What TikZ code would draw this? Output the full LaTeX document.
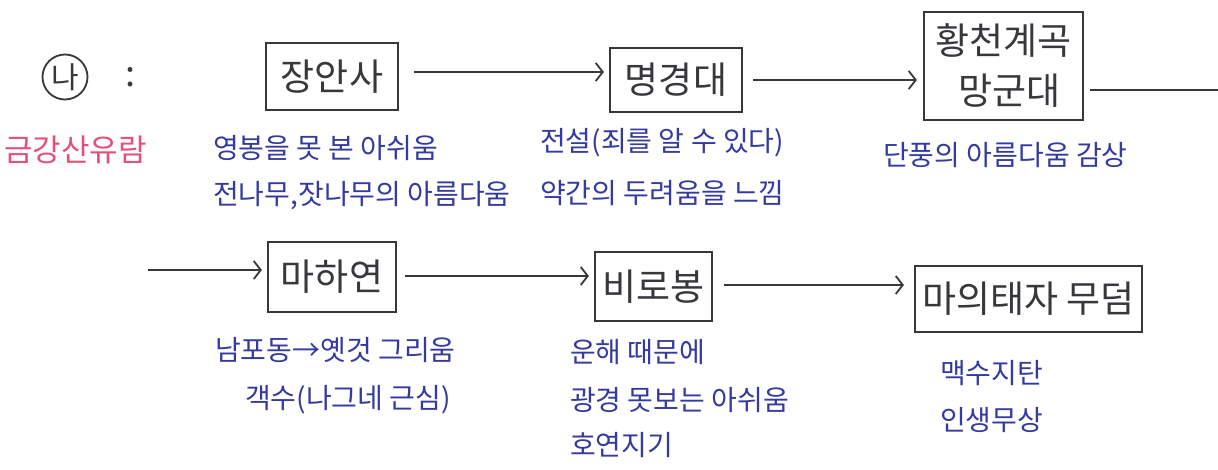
\documentclass[tikz,border=0pt]{standalone}
\usepackage{fontspec}
\setmainfont{Noto Sans CJK KR}
\usetikzlibrary{arrows.meta}
\definecolor{ink}{RGB}{55,55,60}
\definecolor{blueink}{RGB}{52,58,160}
\definecolor{redink}{RGB}{228,80,120}
\tikzset{
  place/.style={draw=ink, line width=2.2pt, text=ink, font=\fontsize{37}{44}\selectfont, inner sep=0pt, align=center},
  note/.style={text=blueink, font=\fontsize{28}{32}\selectfont, anchor=west, inner sep=0pt},
  link/.style={draw=ink, line width=1.8pt, -{Straight Barb[length=7pt,width=18pt,line width=1.8pt]}},
  plain/.style={draw=ink, line width=1.8pt}
}
\begin{document}
\begin{tikzpicture}[x=1pt,y=-1pt]
\useasboundingbox[fill=white] (0,0) rectangle (1218,469);
% header
\node[draw=ink, line width=1.8pt, circle, minimum size=45pt, inner sep=0pt, text=ink, font=\fontsize{30}{34}\selectfont] (na) at (65,77) {나};
\node[text=ink, font=\fontsize{36}{40}\selectfont, inner sep=0pt] (colon) at (131,77) {:};
\node[text=redink, font=\fontsize{31}{36}\selectfont, anchor=west, inner sep=0pt] (title) at (4,150) {금강산유람};
% boxes
\node[place, minimum width=132pt, minimum height=67pt] (jang) at (332,76.5) {장안사};
\node[place, minimum width=132pt, minimum height=64pt] (myeong) at (676,80) {명경대};
\node[place, minimum width=159pt, minimum height=108pt] (hwang) at (1003.5,66) {황천계곡\\[6pt]\hspace*{12pt}망군대};
\node[place, minimum width=128pt, minimum height=70pt] (maha) at (332,277) {마하연};
\node[place, minimum width=117pt, minimum height=69pt] (biro) at (653.5,286.5) {비로봉};
\node[place, minimum width=227pt, minimum height=66pt] (mae) at (1028.5,299) {마의태자 무덤};
% wrap coordinates
\coordinate (wrapR) at (1218,90);
\coordinate (wrapL) at (148,270);
% connectors
\draw[link] ([xshift=15pt,yshift=4.5pt]jang.east) -- ([xshift=-5pt,yshift=8pt]myeong.west);
\draw[link] ([xshift=10pt]myeong.east) -- ([xshift=-6pt,yshift=-14pt]hwang.west);
\draw[plain] ([xshift=6pt,yshift=-24pt]hwang.east) -- (wrapR);
\draw[link] (wrapL) -- ([xshift=-5pt,yshift=7pt]maha.west);
\draw[link] ([xshift=8pt,yshift=1pt]maha.east) -- ([xshift=-5pt,yshift=10.5pt]biro.west);
\draw[link] ([xshift=11pt,yshift=1.5pt]biro.east) -- ([xshift=-10pt,yshift=14pt]mae.west);
% notes
\node[note] (n1a) at (213,148) {영봉을 못 본 아쉬움};
\node[note] (n1b) at (213,196) {전나무,잣나무의 아름다움};
\node[note] (n2a) at (540,143) {전설(죄를 알 수 있다)};
\node[note] (n2b) at (540,193) {약간의 두려움을 느낌};
\node[note] (n3a) at (883,155) {단풍의 아름다움 감상};
\node[note] (n4a) at (215,350) {남포동→옛것 그리움};
\node[note] (n4b) at (245,400) {객수(나그네 근심)};
\node[note] (n5a) at (570,352) {운해 때문에};
\node[note] (n5b) at (570,400) {광경 못보는 아쉬움};
\node[note] (n5c) at (570,445) {호연지기};
\node[note] (n6a) at (940,373) {맥수지탄};
\node[note] (n6b) at (940,420) {인생무상};
\end{tikzpicture}
\end{document}
